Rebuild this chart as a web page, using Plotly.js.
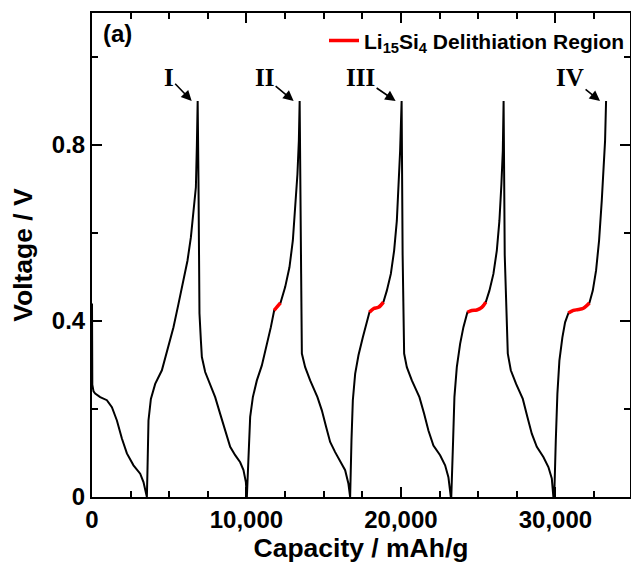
<!DOCTYPE html>
<html>
<head>
<meta charset="utf-8">
<script src="https://cdn.plot.ly/plotly-3.0.1.min.js"></script>
<style>html,body{margin:0;padding:0;background:#fff;}#chart{width:631px;height:566px;}</style>
</head>
<body>
<div id="chart"></div>
<script>
// ---- Data (capacity in mAh/g, voltage in V) ----
const lith1Cap = [0, 0, 20, 100, 207, 531, 964, 1288, 1612, 1935, 2259, 2686, 3120, 3333, 3480, 3553];
const lith1V   = [0.44, 0.30, 0.255, 0.240, 0.235, 0.227, 0.220, 0.204, 0.174, 0.133, 0.099, 0.072, 0.053, 0.034, 0.015, 0];

const delith1Cap = [3553, 3592, 3657, 3812, 4091, 4524, 4951, 5275, 5599, 5922, 6181, 6401, 6570, 6725, 6790, 6841];
const delith1V   = [0, 0.061, 0.174, 0.223, 0.257, 0.288, 0.341, 0.386, 0.439, 0.492, 0.537, 0.590, 0.651, 0.704, 0.80, 0.90];

const lith2Cap = [6841, 6893, 6958, 7049, 7113, 7327, 7650, 7974, 8298, 8621, 8945, 9269, 9592, 9806, 9961, 10026];
const lith2V   = [0.90, 0.72, 0.417, 0.356, 0.318, 0.284, 0.257, 0.227, 0.189, 0.151, 0.114, 0.095, 0.079, 0.061, 0.034, 0];

const delith2Cap = [10026, 10110, 10240, 10414, 10673, 10997, 11320, 11579, 11793, 12006, 12201, 12505, 12783, 13003, 13171, 13301, 13392, 13443];
const delith2V   = [0, 0.091, 0.182, 0.227, 0.265, 0.299, 0.344, 0.386, 0.424, 0.433, 0.441, 0.477, 0.522, 0.583, 0.658, 0.734, 0.810, 0.90];

const lith3Cap = [13443, 13540, 13586, 13800, 14123, 14595, 14880, 15159, 15417, 15741, 16065, 16388, 16602, 16712];
const lith3V   = [0.90, 0.508, 0.326, 0.295, 0.265, 0.227, 0.197, 0.159, 0.125, 0.102, 0.083, 0.061, 0.030, 0];

const delith3Cap = [16712, 16799, 16887, 17036, 17251, 17534, 17793, 17961, 18220, 18544, 18867, 19087, 19346, 19560, 19735, 19864, 19948, 20045];
const delith3V   = [0, 0.129, 0.220, 0.280, 0.322, 0.363, 0.401, 0.420, 0.428, 0.431, 0.443, 0.469, 0.507, 0.560, 0.628, 0.711, 0.787, 0.90];

const lith4Cap = [20045, 20110, 20207, 20382, 20706, 21197, 21502, 21780, 22104, 22537, 22861, 23074, 23230];
const lith4V   = [0.90, 0.55, 0.326, 0.295, 0.265, 0.227, 0.189, 0.151, 0.117, 0.095, 0.072, 0.045, 0];

const delith4Cap = [23260, 23379, 23463, 23618, 23832, 24045, 24304, 24589, 24913, 25236, 25495, 25728, 25987, 26207, 26376, 26505, 26596, 26647];
const delith4V   = [0, 0.129, 0.227, 0.295, 0.348, 0.386, 0.420, 0.424, 0.425, 0.431, 0.443, 0.469, 0.507, 0.560, 0.628, 0.711, 0.787, 0.90];

const lith5Cap = [26647, 26720, 26919, 27113, 27456, 27890, 28188, 28472, 28796, 29223, 29547, 29767, 29870];
const lith5V   = [0.90, 0.55, 0.326, 0.288, 0.257, 0.223, 0.182, 0.144, 0.114, 0.091, 0.068, 0.042, 0];

const delith5Cap = [29925, 30026, 30129, 30259, 30453, 30628, 30841, 31165, 31489, 31812, 32201, 32421, 32634, 32828, 33003, 33133, 33217, 33281];
const delith5V   = [0, 0.129, 0.235, 0.310, 0.363, 0.397, 0.418, 0.424, 0.426, 0.429, 0.441, 0.469, 0.515, 0.583, 0.674, 0.764, 0.810, 0.90];

// Li15Si4 delithiation regions (red)
const red2Cap = [11793, 12006, 12201];               const red2V = [0.424, 0.433, 0.441];
const red3Cap = [17961, 18220, 18544, 18867];        const red3V = [0.420, 0.428, 0.431, 0.443];
const red4Cap = [24304, 24589, 24913, 25236, 25495]; const red4V = [0.420, 0.424, 0.425, 0.431, 0.443];
const red5Cap = [30841, 31165, 31489, 31812, 32201]; const red5V = [0.418, 0.424, 0.426, 0.429, 0.441];

const cycleLabels = ['I', 'II', 'III', 'IV'];
const legendName = 'Li<sub>15</sub>Si<sub>4</sub> Delithiation Region';

// ---- Build traces ----
const blackSegs = [
  [lith1Cap, lith1V], [delith1Cap, delith1V], [lith2Cap, lith2V], [delith2Cap, delith2V],
  [lith3Cap, lith3V], [delith3Cap, delith3V], [lith4Cap, lith4V], [delith4Cap, delith4V],
  [lith5Cap, lith5V], [delith5Cap, delith5V]
];
let bx = [], by = [];
blackSegs.forEach(s => { bx = bx.concat(s[0]); by = by.concat(s[1]); });

const redSegs = [[red2Cap, red2V], [red3Cap, red3V], [red4Cap, red4V], [red5Cap, red5V]];
let rx = [], ry = [];
redSegs.forEach((s, i) => {
  if (i > 0) { rx.push(null); ry.push(null); }
  rx = rx.concat(s[0]); ry = ry.concat(s[1]);
});

const traces = [
  {x: bx, y: by, type: 'scatter', mode: 'lines', line: {color: '#000', width: 2}, showlegend: false, hoverinfo: 'skip'},
  {x: rx, y: ry, type: 'scatter', mode: 'lines', connectgaps: false, name: legendName,
   line: {color: '#ff0000', width: 3.5, shape: 'spline', smoothing: 1}, showlegend: true}
];

// Peaks labelled I..IV (cycles 1,2,3,5)
const labelledDelith = [[delith1Cap, delith1V], [delith2Cap, delith2V], [delith3Cap, delith3V], [delith5Cap, delith5V]];
const labelOffsets = [-23, -29, -35, -30];
const annotations = labelledDelith.map((s, i) => ({
  x: s[0][s[0].length - 1], y: s[1][s[1].length - 1], xref: 'x', yref: 'y',
  text: cycleLabels[i], showarrow: true, arrowhead: 2, arrowsize: 1.3, arrowwidth: 1.6, arrowcolor: '#000',
  ax: labelOffsets[i], ay: -24, xshift: -6,
  font: {family: 'Liberation Serif, Times New Roman, serif', size: 25, weight: 'bold', color: '#000'}
}));
annotations.push({
  xref: 'paper', yref: 'paper', x: 0.0465, y: 0.957, xanchor: 'center', yanchor: 'middle',
  text: '(a)', showarrow: false,
  font: {family: 'Liberation Sans, Arial, sans-serif', size: 24, weight: 'bold', color: '#000'}
});

const tickFont = {family: 'Liberation Sans, Arial, sans-serif', size: 24, weight: 'bold', color: '#000'};
const titleFont = {family: 'Liberation Sans, Arial, sans-serif', size: 26.5, weight: 'bold', color: '#000'};

const layout = {
  width: 631, height: 566,
  margin: {l: 92, r: 1, t: 13, b: 69},
  paper_bgcolor: '#fff', plot_bgcolor: '#fff',
  xaxis: {
    range: [0, 34830], dtick: 10000, tickformat: ',d',
    ticks: 'inside', ticklen: 10, tickwidth: 2, tickcolor: '#000',
    minor: {dtick: 2500, ticks: 'inside', ticklen: 6, tickwidth: 2, tickcolor: '#000'},
    showline: true, linewidth: 2, linecolor: '#000', mirror: 'ticks',
    showgrid: false, zeroline: false, tickfont: tickFont,
    title: {text: 'Capacity / mAh/g', font: titleFont, standoff: 7}
  },
  yaxis: {
    range: [0, 1.1], dtick: 0.4,
    ticks: 'inside', ticklen: 10, tickwidth: 2, tickcolor: '#000',
    minor: {dtick: 0.2, ticks: 'inside', ticklen: 6, tickwidth: 2, tickcolor: '#000'},
    showline: true, linewidth: 2, linecolor: '#000', mirror: 'ticks',
    showgrid: false, zeroline: false, tickfont: tickFont,
    title: {text: 'Voltage / V', font: titleFont, standoff: 12}
  },
  showlegend: true,
  legend: {x: 1, xanchor: 'right', y: 0.985, yanchor: 'top', bgcolor: 'rgba(0,0,0,0)',
           font: {family: 'Liberation Sans, Arial, sans-serif', size: 21, weight: 'bold', color: '#000'}},
  annotations: annotations
};

Plotly.newPlot('chart', traces, layout, {staticPlot: true, displayModeBar: false});
</script>
</body>
</html>
